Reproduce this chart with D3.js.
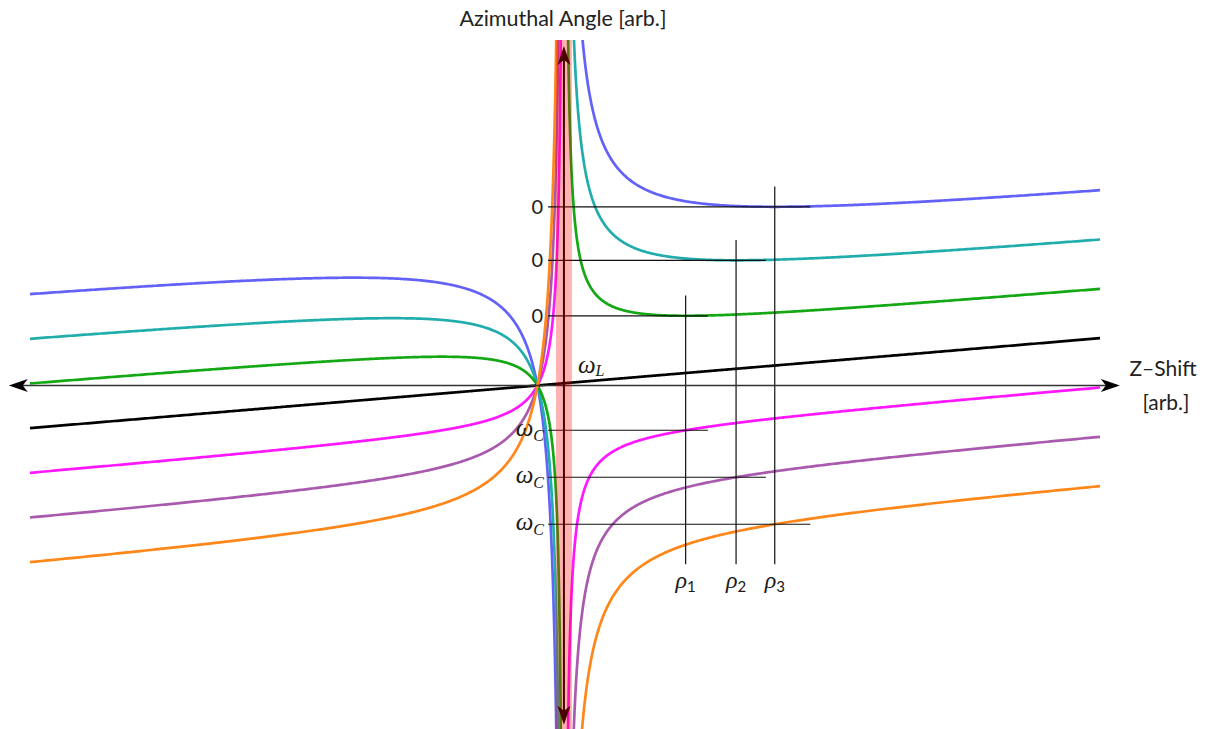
<!DOCTYPE html>
<html>
<head>
<meta charset="utf-8">
<script src="https://cdn.jsdelivr.net/npm/d3@7"></script>
<style>
  body { margin: 0; background: #fff; }
  svg { display: block; }
</style>
</head>
<body>
<svg id="chart" width="1207" height="729"></svg>
<script>
// Family of curves: angle(z) = slope * z + amp * z / (z - pole)
const curveNames  = ["amp +3", "amp +2", "amp +1", "linear", "amp -1", "amp -2", "amp -3"];
const curveColors = ["#6262f8", "#22adad", "#14a814", "#000000", "#ff18ff", "#a95aae", "#ff8618"];
const curveAmps   = [3, 2, 1, 0, -1, -2, -3];
const larmorSlope = 0.0474;   // slope of the linear (ωL) term
const polePosition = 1;       // z position of the resonance
const zRange      = [-19.15, 21.23];
const angleRange  = [-7.5, 7.35];
const rhoSubscripts = ["1", "2", "3"];   // ρ markers for amps +1, +2, +3
const rhoAmps       = [1, 2, 3];

const W = 1207, H = 729;
const svg = d3.select("#chart");
svg.append("rect").attr("width", W).attr("height", H).attr("fill", "#fff");

const x = d3.scaleLinear().domain(zRange).range([30, 1100]);
const y = d3.scaleLinear().domain(angleRange).range([738, 40]);

const angle = (z, a) => larmorSlope * z + a * z / (z - polePosition);

// clip for the curves (top edge of the plot region)
svg.append("clipPath").attr("id", "plotClip")
  .append("rect").attr("x", 0).attr("y", y(angleRange[1])).attr("width", W).attr("height", H);

// sample points, denser towards the pole on either side
const nS = 700;
const leftZ  = d3.range(nS + 1).map(i => {
  const t = 1 - i / nS * 0.985;
  return polePosition - (polePosition - zRange[0]) * Math.pow(t, 4);
});
const rightZ = d3.range(nS + 1).map(i => {
  const t = 0.015 + i / nS * 0.985;
  return polePosition + (zRange[1] - polePosition) * Math.pow(t, 4);
});

const line = d3.line()
  .x(d => x(d[0]))
  .y(d => y(Math.max(-40, Math.min(40, d[1]))));

const curves = svg.append("g").attr("clip-path", "url(#plotClip)");
curveAmps.forEach((a, i) => {
  const g = curves.append("g").attr("class", "curve").attr("data-name", curveNames[i]);
  [leftZ, rightZ].forEach(zs => {
    g.append("path")
      .attr("d", line(zs.map(z => [z, angle(z, a)])))
      .attr("fill", "none")
      .attr("stroke", curveColors[i])
      .attr("stroke-width", 2.7)
      .attr("stroke-linejoin", "round");
  });
});

// extremum markers: ρ positions and the levels at 0 / ωC
const refs = rhoAmps.map(a => {
  const rho = polePosition + Math.sqrt(a * polePosition / larmorSlope);
  return { a, rho, top: angle(rho, a), bottom: angle(rho, -a) };
});
const maxLevel = d3.max(refs, r => r.top);

const refG = svg.append("g").attr("stroke", "#111").attr("stroke-width", 1.2);
refs.forEach(r => {
  [r.top, r.bottom].forEach(lv => {
    refG.append("line")
      .attr("x1", x(0.4)).attr("x2", x(r.rho * 1.15))
      .attr("y1", y(lv)).attr("y2", y(lv));
  });
  refG.append("line")
    .attr("x1", x(r.rho)).attr("x2", x(r.rho))
    .attr("y1", y(r.top + 0.43)).attr("y2", y(-maxLevel));
});

// axes with arrowheads
const axisG = svg.append("g");
const arrow = "M0,0 L-19,-6.5 L-14,0 L-19,6.5 Z";
const hx0 = x(-19.95), hx1 = x(21.98), hy = y(0);
axisG.append("line").attr("x1", hx0 + 6).attr("x2", hx1 - 6).attr("y1", hy).attr("y2", hy)
  .attr("stroke", "#333").attr("stroke-width", 1.5);
axisG.append("path").attr("d", arrow).attr("fill", "#000")
  .attr("transform", `translate(${hx1},${hy})`);
axisG.append("path").attr("d", arrow).attr("fill", "#000")
  .attr("transform", `translate(${hx0},${hy}) rotate(180)`);

const vx = x(polePosition), vy0 = y(7.22), vy1 = y(-7.22);
axisG.append("line").attr("x1", vx).attr("x2", vx).attr("y1", vy0 + 6).attr("y2", vy1 - 6)
  .attr("stroke", "#000").attr("stroke-width", 2);
axisG.append("path").attr("d", arrow).attr("fill", "#000")
  .attr("transform", `translate(${vx},${vy0}) rotate(-90)`);
axisG.append("path").attr("d", arrow).attr("fill", "#000")
  .attr("transform", `translate(${vx},${vy1}) rotate(90)`);

// resonance band around the pole
svg.append("rect")
  .attr("x", x(polePosition - 0.3)).attr("width", x(polePosition + 0.3) - x(polePosition - 0.3))
  .attr("y", y(angleRange[1])).attr("height", H - y(angleRange[1]))
  .attr("fill", "#ff0000").attr("fill-opacity", 0.3);

// axis titles
const sans = "Lato, 'Open Sans', sans-serif";
const serif = "'Liberation Serif', 'DejaVu Serif', serif";
svg.append("text").attr("x", vx - 1).attr("y", 26)
  .attr("text-anchor", "middle").attr("font-family", sans).attr("font-size", 21.5)
  .attr("fill", "#222").text("Azimuthal Angle [arb.]");
svg.append("text").attr("x", 1163).attr("y", 376)
  .attr("text-anchor", "middle").attr("font-family", sans).attr("font-size", 21)
  .attr("fill", "#222").text("Z\u2013Shift");
svg.append("text").attr("x", 1166).attr("y", 410)
  .attr("text-anchor", "middle").attr("font-family", sans).attr("font-size", 21)
  .attr("fill", "#222").text("[arb.]");

// level labels
const lblX = x(0.4) - 5;
refs.forEach(r => {
  svg.append("text").attr("x", lblX).attr("y", y(r.top) + 7)
    .attr("text-anchor", "end").attr("font-family", sans).attr("font-size", 20)
    .attr("fill", "#1a1a1a").text("0");
  const t = svg.append("text").attr("x", lblX + 1).attr("y", y(r.bottom) + 5.5)
    .attr("text-anchor", "end").attr("fill", "#1a1a1a");
  t.append("tspan").attr("font-family", serif).attr("font-style", "italic")
    .attr("font-size", 25).text("\u03c9");
  t.append("tspan").attr("font-family", serif).attr("font-style", "italic")
    .attr("font-size", 16).attr("dy", 5).text("C");
});

// ωL label next to the linear term
const wl = svg.append("text").attr("x", vx + 14).attr("y", hy - 12.5).attr("fill", "#1a1a1a");
wl.append("tspan").attr("font-family", serif).attr("font-style", "italic")
  .attr("font-size", 25).text("\u03c9");
wl.append("tspan").attr("font-family", serif).attr("font-style", "italic")
  .attr("font-size", 16).attr("dy", 3).text("L");

// ρ labels below the vertical markers
refs.forEach((r, i) => {
  const t = svg.append("text").attr("x", x(r.rho)).attr("y", 588)
    .attr("text-anchor", "middle").attr("fill", "#1a1a1a");
  t.append("tspan").attr("font-family", serif).attr("font-style", "italic")
    .attr("font-size", 24).text("\u03c1");
  t.append("tspan").attr("font-family", sans).attr("font-size", 15)
    .attr("dy", 4).text(rhoSubscripts[i]);
});
</script>
</body>
</html>
